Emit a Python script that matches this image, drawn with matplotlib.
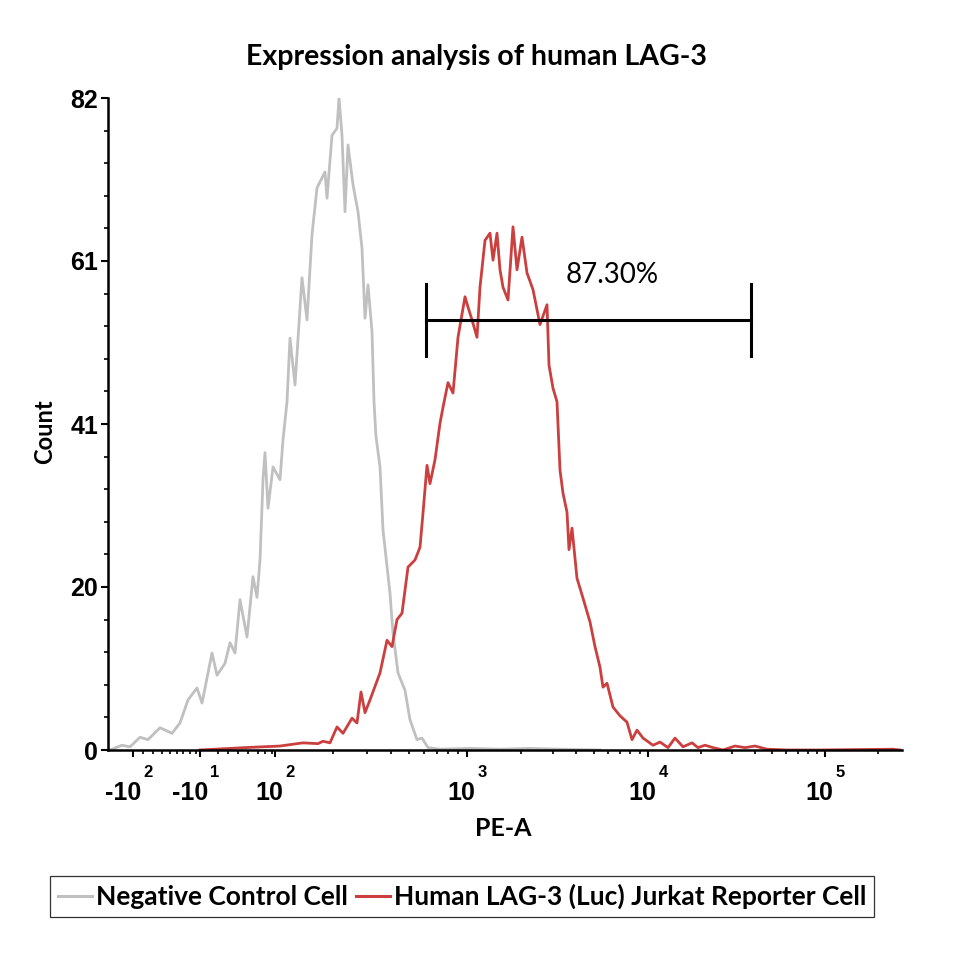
import matplotlib
matplotlib.use('Agg')

import numpy as np
import matplotlib.pyplot as plt
from matplotlib.lines import Line2D

# x is the position on the PE-A display scale (biexponential channels, 0..794)
neg_ch = [2, 14, 22, 32, 40, 52, 64, 72, 80, 89,
          94, 104, 109, 117, 122, 127, 132, 139, 145, 149,
          152, 155, 157, 160, 165, 172, 175, 179, 182, 187,
          194, 199, 204, 209, 217, 219, 224, 229, 231, 234,
          237, 240, 245, 250, 254, 257, 260, 264, 266, 268,
          272, 275, 282, 285, 290, 297, 302, 309, 314, 320,
          332, 362, 392, 422, 452, 492]
neg_count = [0, 0.6, 0.4, 1.6, 1.3, 2.8, 2.1, 3.4, 6.3, 7.8,
             5.9, 12.2, 9.4, 10.9, 13.5, 12.2, 18.9, 14.2, 21.8, 19.2,
             23.9, 34.0, 37.4, 30.4, 35.6, 34.0, 39.0, 43.8, 51.8, 45.9,
             59.4, 54.1, 64.8, 70.7, 72.7, 69.4, 77.3, 78.2, 82.0, 77.3,
             67.7, 76.1, 71.1, 67.7, 63.1, 54.3, 58.5, 52.6, 43.8, 39.4,
             35.6, 27.7, 19.7, 14.7, 9.7, 7.5, 3.8, 1.3, 1.5, 0.3,
             0.1, 0.2, 0.1, 0.2, 0.1, 0]

lag3_ch = [92, 137, 172, 195, 210, 215, 222, 229, 235, 244,
           249, 253, 257, 262, 272, 279, 284, 289, 294, 300,
           307, 312, 315, 319, 322, 327, 332, 335, 340, 345,
           350, 357, 360, 364, 369, 372, 377, 382, 385, 389,
           392, 395, 400, 405, 409, 414, 419, 425, 432, 439,
           441, 445, 449, 452, 455, 459, 461, 464, 469, 475,
           482, 487, 492, 495, 499, 505, 512, 519, 524, 529,
           535, 545, 552, 560, 567, 575, 584, 590, 597, 605,
           615, 627, 637, 647, 659, 679, 712, 785, 792]
lag3_count = [0, 0.3, 0.5, 0.9, 0.8, 1.1, 0.9, 2.9, 2.1, 4.0,
              3.4, 7.3, 4.7, 6.3, 9.7, 13.8, 13.0, 16.4, 17.2, 23.0,
              23.9, 25.5, 29.8, 35.8, 33.5, 36.5, 41.1, 43.1, 46.2, 44.9,
              51.9, 57.0, 55.7, 54.1, 51.9, 58.2, 64.1, 65.0, 61.6, 65.0,
              60.4, 58.2, 56.6, 65.8, 60.4, 64.5, 60.0, 57.9, 53.5, 56.0,
              48.4, 45.5, 43.8, 35.2, 32.3, 29.9, 25.2, 27.9, 21.6, 19.1,
              16.1, 13.0, 10.4, 7.9, 8.4, 5.4, 4.3, 3.5, 1.3, 2.5,
              1.5, 0.6, 1.0, 0.3, 1.5, 0.4, 0.9, 0.3, 0.6, 0.3,
              0, 0.5, 0.3, 0.5, 0.1, 0, 0, 0.1, 0]

# x axis decades
major_ch = [25, 92, 167, 359, 540, 717]
major_base = ['-10', '-10', '10', '10', '10', '10']
major_exp = ['2', '1', '2', '3', '4', '5']
near_zero_minor = [35, 45, 54, 62, 69, 75, 82, 88,
                   110, 120, 130, 140, 150, 157, 164]

count_ticks = [0, 20.5, 41, 61.5, 82]
count_labels = ['0', '20', '41', '61', '82']

gate_ch = [318, 643]
gate_count = 54.1
gate_text = '87.30%'

labels = ['Negative Control Cell', 'Human LAG-3 (Luc) Jurkat Reporter Cell']
colors = ['#c0c0c0', '#cc3f3f']

W, H = 957, 960
fig = plt.figure(figsize=(W / 100, H / 100), dpi=100)
ax = fig.add_axes([108 / W, 1 - 750 / H, 794 / W, 652 / H])

ax.plot(neg_ch, neg_count, color=colors[0], lw=2.0)
ax.plot(lag3_ch, lag3_count, color=colors[1], lw=2.0)

ax.set_xlim(0, 794)
ax.set_ylim(0, 82)

for s in ['top', 'right']:
    ax.spines[s].set_visible(False)
for s in ['left', 'bottom']:
    ax.spines[s].set_linewidth(1.8)

# minor ticks: log spacing inside each positive decade
minor = list(near_zero_minor)
decades = major_ch[2:] + [major_ch[-1] + (major_ch[-1] - major_ch[-2])]
for a, b in zip(decades[:-1], decades[1:]):
    for m in range(2, 10):
        p = a + (b - a) * np.log10(m)
        if p < 794:
            minor.append(p)
ax.set_xticks(major_ch)
ax.set_xticklabels([''] * len(major_ch))
ax.set_xticks(minor, minor=True)
ax.tick_params(axis='x', which='major', length=5, width=1.5, direction='out')
ax.tick_params(axis='x', which='minor', length=3, width=1.2, direction='out')

for x, b, e in zip(major_ch, major_base, major_exp):
    ax.annotate(b, xy=(x, 0), xycoords=('data', 'axes fraction'),
                xytext=(6, -31), textcoords='offset points',
                ha='right', va='center', fontsize=18, fontweight='bold',
                family='Liberation Sans')
    ax.annotate(e, xy=(x, 0), xycoords=('data', 'axes fraction'),
                xytext=(7.5, -16.5), textcoords='offset points',
                ha='left', va='center', fontsize=12, fontweight='bold',
                family='Liberation Sans')

ax.set_yticks(count_ticks)
ax.set_yticklabels(count_labels, fontsize=18, fontweight='bold',
                   family='Liberation Sans')
ax.set_yticks(np.arange(0, 82.01, 4.1), minor=True)
ax.tick_params(axis='y', which='major', length=5, width=1.5, pad=2)
ax.tick_params(axis='y', which='minor', length=3, width=1.2)

# gate marker
ax.plot(gate_ch, [gate_count, gate_count], color='black', lw=2.2)
for g in gate_ch:
    ax.plot([g, g], [gate_count - 4.5, gate_count + 4.5], color='black', lw=2.2)
ax.text(np.mean([gate_ch[0], gate_ch[1]]) + 24, 59.7, gate_text,
        ha='center', va='center', fontsize=20, family='Lato')

fig.text(477 / W, 1 - 57 / H, 'Expression analysis of human LAG-3',
         ha='center', va='center', fontsize=20.5, fontweight='bold', family='Lato')
fig.text(45 / W, 1 - 432 / H, 'Count', rotation=90,
         ha='center', va='center', fontsize=17, fontweight='bold', family='Lato')
fig.text(503 / W, 1 - 828 / H, 'PE-A',
         ha='center', va='center', fontsize=18, fontweight='bold', family='Lato')

handles = [Line2D([], [], color=c, lw=2.2) for c in colors]
leg = fig.legend(handles, labels, loc='center', ncol=2,
                 bbox_to_anchor=(462 / W, 1 - 896.5 / H),
                 prop={'family': 'Lato', 'weight': 'bold', 'size': 19},
                 frameon=True, fancybox=False, handlelength=1.3,
                 handletextpad=0.15, columnspacing=0.3, borderpad=0.3,
                 borderaxespad=0)
leg.get_frame().set_edgecolor('black')
leg.get_frame().set_linewidth(0.9)

fig.savefig('out.png', dpi=100)
